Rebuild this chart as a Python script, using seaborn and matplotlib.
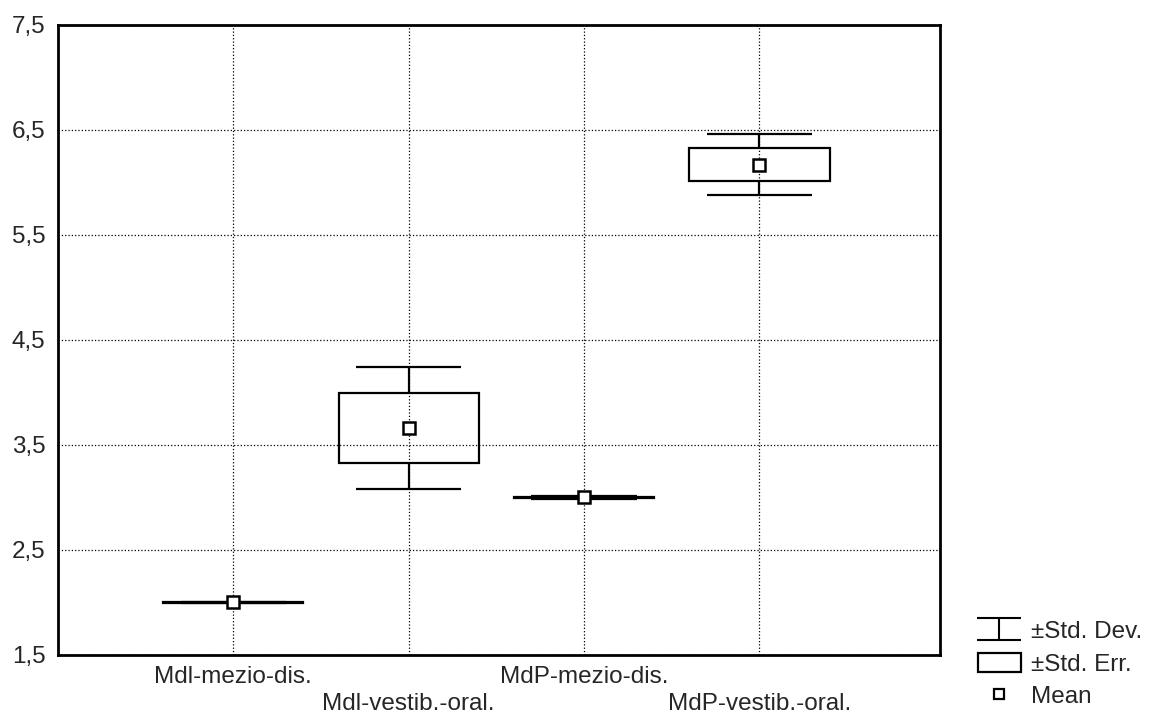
import numpy as np
import pandas as pd
import seaborn as sns
import matplotlib.pyplot as plt
from matplotlib.lines import Line2D
from matplotlib.patches import Rectangle
from matplotlib.path import Path

sns.set_theme(style='white')
plt.rcParams['font.family'] = ['Liberation Sans', 'DejaVu Sans']

# values
groups = ['Mdl-mezio-dis.', 'Mdl-vestib.-oral.', 'MdP-mezio-dis.', 'MdP-vestib.-oral.']
means = [2.0, 3.66, 3.0, 6.17]
std_err = [0.004, 0.335, 0.008, 0.16]
std_dev = [0.008, 0.58, 0.016, 0.29]
y_ticks = [1.5, 2.5, 3.5, 4.5, 5.5, 6.5, 7.5]

df = pd.DataFrame({'group': groups, 'mean': means, 'se': std_err, 'sd': std_dev})
df['lo_se'] = df['mean'] - df['se']
df['lo_sd'] = df['mean'] - df['sd']
df['hi_se'] = df['mean'] + df['se']
df['hi_sd'] = df['mean'] + df['sd']

FS = 17.5

fig = plt.figure(figsize=(11.52, 7.16), dpi=100)
ax = fig.add_axes([0.0503, 0.0852, 0.7657, 0.8799])

pos = np.arange(len(groups))
box_w = 0.8
cap_w = 0.6
lw = 1.6

# std. err. boxes
ax.bar(pos, df['se'] * 2, bottom=df['lo_se'], width=box_w, fill=False,
       edgecolor='black', linewidth=lw, zorder=3)
# std. dev. whiskers
ax.vlines(pos, df['hi_se'], df['hi_sd'], color='black', linewidth=lw, zorder=3)
ax.vlines(pos, df['lo_sd'], df['lo_se'], color='black', linewidth=lw, zorder=3)
ax.hlines(df['hi_sd'], pos - cap_w / 2, pos + cap_w / 2, color='black', linewidth=lw, zorder=3)
ax.hlines(df['lo_sd'], pos - cap_w / 2, pos + cap_w / 2, color='black', linewidth=lw, zorder=3)

# means
sns.pointplot(data=df, x='group', y='mean', order=groups, linestyle='none',
              marker='s', markersize=8.5, markerfacecolor='white',
              markeredgecolor='black', markeredgewidth=1.8, color='black',
              errorbar=None, ax=ax)
for l in ax.lines:
    l.set_zorder(5)

ax.set_xlim(-1, 4.03)
ax.set_ylim(1.5, 7.5)
ax.set_yticks(y_ticks)
ax.set_yticklabels([f'{v:.1f}'.replace('.', ',') for v in y_ticks], fontsize=FS)
ax.set_xticks(pos)
ax.set_xticklabels([g if i % 2 == 0 else '\n' + g for i, g in enumerate(groups)],
                   fontsize=FS, linespacing=1.3)
ax.tick_params(axis='y', length=0, pad=9)
ax.tick_params(axis='x', length=0, pad=8)
ax.set_xlabel('')
ax.set_ylabel('')
ax.grid(True, linestyle=':', color='black', linewidth=0.9)
ax.set_axisbelow(True)
for s in ax.spines.values():
    s.set_color('black')
    s.set_linewidth(2)

# legend
ibar = Path([(-1, 0.5), (1, 0.5), (0, 0.5), (0, -0.5), (-1, -0.5), (1, -0.5)],
            [Path.MOVETO, Path.LINETO, Path.MOVETO, Path.LINETO, Path.MOVETO, Path.LINETO])
handles = [
    Line2D([], [], linestyle='none', marker=ibar, markersize=31, markerfacecolor='none',
           markeredgecolor='black', markeredgewidth=1.5),
    Rectangle((0, 0), 1, 1, fill=False, edgecolor='black', linewidth=1.6),
    Line2D([], [], linestyle='none', marker='s', markersize=7, markerfacecolor='white',
           markeredgecolor='black', markeredgewidth=1.6),
]
fig.legend(handles, ['±Std. Dev.', '±Std. Err.', 'Mean'], loc='lower left',
           bbox_to_anchor=(0.838, -0.006), frameon=False, fontsize=FS, borderpad=0,
           handlelength=1.77, handleheight=0.8, labelspacing=0.4, handletextpad=0.45)

fig.savefig('out.png', dpi=100)
